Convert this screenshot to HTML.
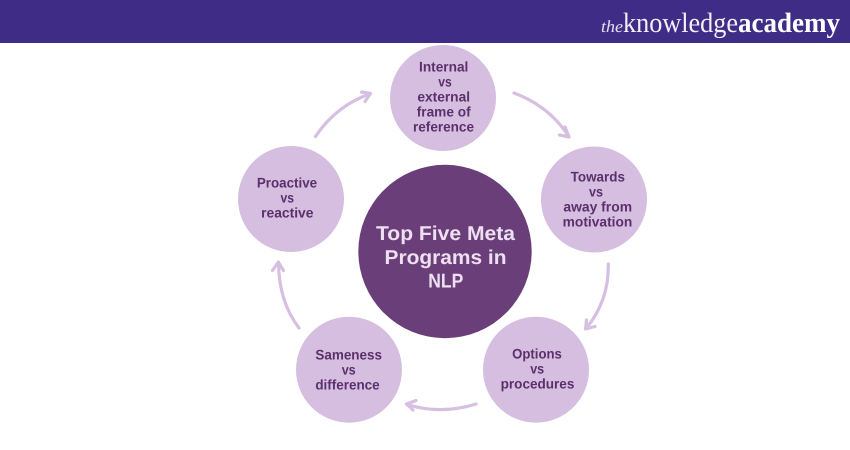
<!DOCTYPE html>
<html lang="en">
<head>
<meta charset="utf-8">
<title>Top Five Meta Programs in NLP</title>
<style>
html,body{margin:0;padding:0;width:850px;height:450px;background:#fff;overflow:hidden}
svg{display:block;text-rendering:geometricPrecision}
.s{font-family:"Liberation Sans",sans-serif;font-weight:700;font-size:14px;fill:#5b2f6c;text-anchor:middle}
.c{font-family:"Liberation Sans",sans-serif;font-weight:700;font-size:20px;fill:#eee0f1;text-anchor:middle}
.a{fill:none;stroke:#d6bfe0;stroke-width:3.2;stroke-linecap:round;stroke-linejoin:round}
</style>
</head>
<body>
<svg width="850" height="450" viewBox="0 0 850 450" xmlns="http://www.w3.org/2000/svg">
<rect width="850" height="450" fill="#fff"/>
<rect width="850" height="43" fill="#3e2c87"/>
<text x="601" y="32" font-family="'Liberation Serif',serif" font-style="italic" font-size="17" fill="#e6e0f0" textLength="22" lengthAdjust="spacingAndGlyphs">the</text>
<text x="623" y="32" font-family="'Liberation Serif',serif" font-size="28" fill="#f3f0f8" textLength="115" lengthAdjust="spacingAndGlyphs">knowledge</text>
<text x="738" y="32" font-family="'Liberation Serif',serif" font-weight="700" font-size="28" fill="#fff" textLength="102" lengthAdjust="spacingAndGlyphs">academy</text>

<circle cx="445" cy="251.5" r="86.7" fill="#6a3f79"/>
<circle cx="443" cy="98" r="53" fill="#d5bedf"/>
<circle cx="594" cy="199.5" r="53" fill="#d5bedf"/>
<circle cx="536" cy="369.7" r="53" fill="#d5bedf"/>
<circle cx="349" cy="369.7" r="53" fill="#d5bedf"/>
<circle cx="291" cy="199" r="53" fill="#d5bedf"/>

<path class="a" d="M315.5 136.5Q336 106 369.5 94"/>
<path class="a" d="M361.5 92L370.5 93.5L365 101.5"/>
<path class="a" d="M514 93Q549 106 568.5 136"/>
<path class="a" d="M565 127L569 137L559.5 135"/>
<path class="a" d="M608.3 264Q609 301 586 328.5"/>
<path class="a" d="M595 326.5L585.5 329L586.5 320"/>
<path class="a" d="M476 404Q441 415 407 404.5"/>
<path class="a" d="M416 400.5L406.5 404L413 410"/>
<path class="a" d="M299 328Q279 302 278.5 263"/>
<path class="a" d="M272.5 270.5L278.3 262L283.5 270.5"/>

<text class="c" x="445.5" y="240" textLength="139" lengthAdjust="spacingAndGlyphs">Top Five Meta</text>
<text class="c" x="445.5" y="264" textLength="122" lengthAdjust="spacingAndGlyphs">Programs in</text>
<text class="c" x="445.8" y="287.7" textLength="35" lengthAdjust="spacingAndGlyphs">NLP</text>

<text class="s" x="443.7" y="71.5" textLength="49.3" lengthAdjust="spacingAndGlyphs">Internal</text>
<text class="s" x="445" y="86.5" textLength="13.5" lengthAdjust="spacingAndGlyphs">vs</text>
<text class="s" x="443.7" y="101.5" textLength="52.7" lengthAdjust="spacingAndGlyphs">external</text>
<text class="s" x="443.7" y="116.5" textLength="54" lengthAdjust="spacingAndGlyphs">frame of</text>
<text class="s" x="443.5" y="131.5" textLength="61" lengthAdjust="spacingAndGlyphs">reference</text>

<text class="s" x="597.8" y="181.5" textLength="54.3" lengthAdjust="spacingAndGlyphs">Towards</text>
<text class="s" x="596" y="196.5" textLength="14" lengthAdjust="spacingAndGlyphs">vs</text>
<text class="s" x="597.7" y="211.5" textLength="68.7" lengthAdjust="spacingAndGlyphs">away from</text>
<text class="s" x="597.5" y="226.5" textLength="69.7" lengthAdjust="spacingAndGlyphs">motivation</text>

<text class="s" x="537" y="358.5" textLength="49.7" lengthAdjust="spacingAndGlyphs">Options</text>
<text class="s" x="537.2" y="373.5" textLength="14" lengthAdjust="spacingAndGlyphs">vs</text>
<text class="s" x="537.5" y="388.5" textLength="73.7" lengthAdjust="spacingAndGlyphs">procedures</text>

<text class="s" x="348.7" y="359.5" textLength="66.7" lengthAdjust="spacingAndGlyphs">Sameness</text>
<text class="s" x="348.7" y="374.5" textLength="14" lengthAdjust="spacingAndGlyphs">vs</text>
<text class="s" x="347.5" y="389.5" textLength="64.3" lengthAdjust="spacingAndGlyphs">difference</text>

<text class="s" x="287" y="187.5" textLength="60.3" lengthAdjust="spacingAndGlyphs">Proactive</text>
<text class="s" x="287.3" y="202.5" textLength="13.5" lengthAdjust="spacingAndGlyphs">vs</text>
<text class="s" x="287.3" y="217.5" textLength="52.3" lengthAdjust="spacingAndGlyphs">reactive</text>
</svg>
</body>
</html>
